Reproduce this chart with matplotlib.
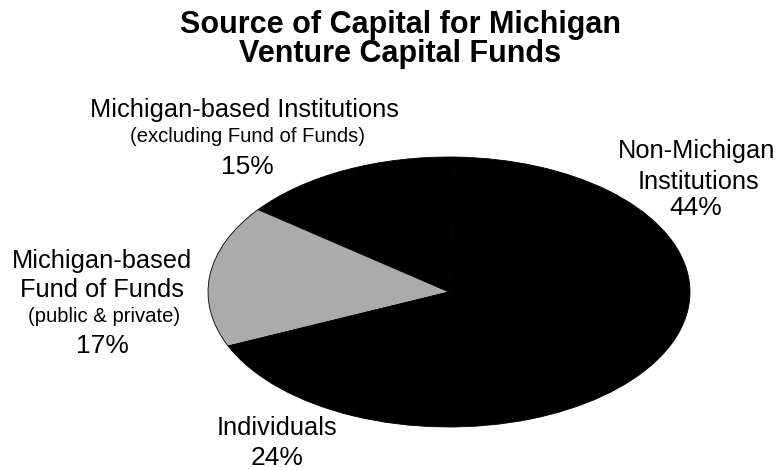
import matplotlib
matplotlib.use("Agg")
import matplotlib.pyplot as plt

plt.rcParams['font.family'] = ['Liberation Sans', 'DejaVu Sans']

# Data (counter-clockwise order starting at the right-bottom boundary)
categories = ["Non-Michigan Institutions",
              "Michigan-based Institutions (excluding Fund of Funds)",
              "Michigan-based Fund of Funds (public & private)",
              "Individuals"]
shares = [44, 15, 17, 24]
colors = ["#000000", "#000000", "#ababab", "#000000"]

W, H = 782, 470
fig = plt.figure(figsize=(W / 100, H / 100), dpi=100)
fig.patch.set_facecolor("white")

# pie axes placed on the elliptical pie region
x0, x1, y0, y1 = 208, 690, 157, 427
ax = fig.add_axes([x0 / W, 1 - y1 / H, (x1 - x0) / W, (y1 - y0) / H])
ax.pie(shares, colors=colors, startangle=-70, counterclock=True,
       wedgeprops=dict(linewidth=0.6, edgecolor="#000000"))
ax.set_aspect("auto")
ax.set_xlim(-1, 1)
ax.set_ylim(-1, 1)
ax.axis("off")


def txt(x, y, s, size, weight="normal"):
    fig.text(x / W, 1 - y / H, s, fontsize=size, fontweight=weight,
             ha="center", va="baseline", color="#000000")


# Title
txt(400, 33, "Source of Capital for Michigan", 22, "bold")
txt(400, 62, "Venture Capital Funds", 22, "bold")

# Labels
txt(244, 117, "Michigan-based Institutions", 18.3)
txt(247, 142, "(excluding Fund of Funds)", 14.6)
txt(247, 174, f"{shares[1]}%", 19)

txt(697, 158, "Non-Michigan", 18.3)
txt(698, 189, "Institutions", 18.3)
txt(696, 215, f"{shares[0]}%", 19)

txt(102, 268, "Michigan-based", 18.3)
txt(102, 297, "Fund of Funds", 18.3)
txt(104, 322, "(public & private)", 14.6)
txt(102, 353, f"{shares[2]}%", 19)

txt(277, 435, "Individuals", 18.3)
txt(277, 465, f"{shares[3]}%", 19)

fig.savefig("out.png", dpi=100, facecolor="white")
